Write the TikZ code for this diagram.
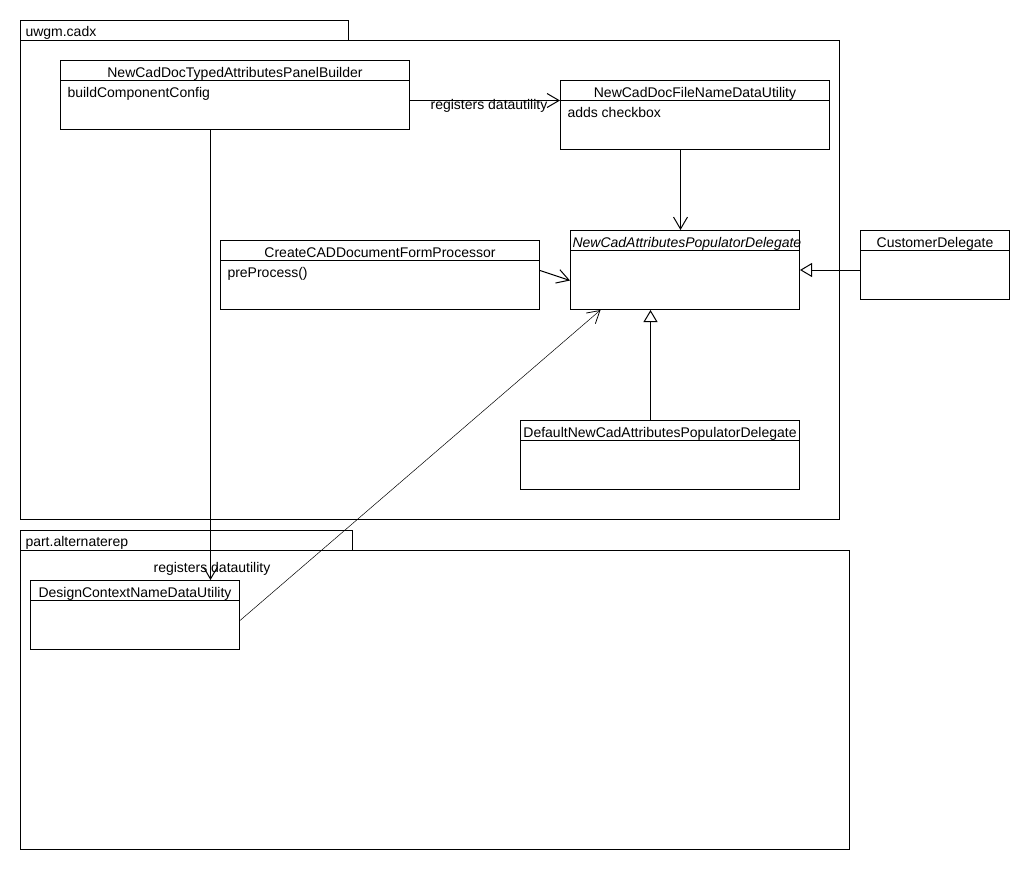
\documentclass[tikz,border=0pt]{standalone}
\usepackage{fontspec}
\setmainfont{Liberation Sans}
\usetikzlibrary{arrows.meta,positioning}

\begin{document}
\begin{tikzpicture}[
  x=1pt,y=-1pt,
  line width=1pt,
  font=\fontsize{14}{16}\selectfont,
  pkg/.style={draw,anchor=north west,inner sep=0pt},
  pkgname/.style={anchor=base west,inner sep=0pt},
  classbox/.style={draw,anchor=north west,inner sep=0pt},
  classname/.style={anchor=base,inner sep=0pt},
  classbody/.style={anchor=base west,inner sep=0pt},
  lbl/.style={inner sep=0pt},
  dep/.style={-{Straight Barb[length=12pt,width=14pt]}},
  thindep/.style={line width=0.5pt,-{Straight Barb[length=12pt,width=14pt,line width=0.8pt]}},
  gen/.style={-{Triangle[open,length=12pt,width=14pt]}}
]
\useasboundingbox (0,0) rectangle (1030,870);

% packages
\node[pkg,minimum width=328,minimum height=20] (cadxtab) at (20,20) {};
\node[pkg,minimum width=819,minimum height=479] (cadx) at (20,40) {};
\node[pkgname] (cadxname) at (25,36) {uwgm.cadx};
\node[pkg,minimum width=332,minimum height=20] (alttab) at (20,530) {};
\node[pkg,minimum width=829,minimum height=299] (alt) at (20,550) {};
\node[pkgname] (altname) at (25,546) {part.alternaterep};

% classes
\node[classbox,minimum width=349,minimum height=69] (builder) at (60,60) {};
\node[classname] (builder-t) at ([yshift=-17pt]builder.north) {NewCadDocTypedAttributesPanelBuilder};
\draw ([yshift=-20pt]builder.north west) -- ([yshift=-20pt]builder.north east);
\node[classbody] (builder-b) at ([shift={(7pt,-37pt)}]builder.north west) {buildComponentConfig};

\node[classbox,minimum width=269,minimum height=69] (filename) at (560,80) {};
\node[classname] (filename-t) at ([yshift=-17pt]filename.north) {NewCadDocFileNameDataUtility};
\draw ([yshift=-20pt]filename.north west) -- ([yshift=-20pt]filename.north east);
\node[classbody] (filename-b) at ([shift={(7pt,-37pt)}]filename.north west) {adds checkbox};

\node[classbox,minimum width=229,minimum height=79] (delegate) at (570,230) {};
\node[classname,anchor=base west] (delegate-t) at ([shift={(2pt,-17pt)}]delegate.north west) {\itshape NewCadAttributesPopulatorDelegate};
\draw ([yshift=-20pt]delegate.north west) -- ([yshift=-20pt]delegate.north east);

\node[classbox,minimum width=319,minimum height=69] (create) at (220,240) {};
\node[classname] (create-t) at ([yshift=-17pt]create.north) {CreateCADDocumentFormProcessor};
\draw ([yshift=-20pt]create.north west) -- ([yshift=-20pt]create.north east);
\node[classbody] (create-b) at ([shift={(7pt,-37pt)}]create.north west) {preProcess()};

\node[classbox,minimum width=149,minimum height=69] (customer) at (860,230) {};
\node[classname] (customer-t) at ([yshift=-17pt]customer.north) {CustomerDelegate};
\draw ([yshift=-20pt]customer.north west) -- ([yshift=-20pt]customer.north east);

\node[classbox,minimum width=279,minimum height=69] (default) at (520,420) {};
\node[classname] (default-t) at ([yshift=-17pt]default.north) {DefaultNewCadAttributesPopulatorDelegate};
\draw ([yshift=-20pt]default.north west) -- ([yshift=-20pt]default.north east);

\node[classbox,minimum width=209,minimum height=69] (design) at (30,580) {};
\node[classname] (design-t) at ([yshift=-17pt]design.north) {DesignContextNameDataUtility};
\draw ([yshift=-20pt]design.north west) -- ([yshift=-20pt]design.north east);

% connectors
\draw[dep] ([yshift=-5.5pt]builder.east) -- ([yshift=14.5pt]filename.west);
\node[lbl] (reg1) at (489,106) {registers datautility};
\draw[dep] ([xshift=-4.5pt]delegate.north |- filename.south) -- ([xshift=-4.5pt]delegate.north);
\draw[dep] ([yshift=4.5pt]create.east) -- ([yshift=-10.5pt]delegate.west);
\draw[gen] (customer.west |- delegate.east) -- (delegate.east);
\draw[gen] ([xshift=-9.5pt]default.north) -- ([xshift=-9.5pt]default.north |- delegate.south);
\draw[dep] ([xshift=-24.5pt]builder.south) -- ([xshift=-24.5pt]builder.south |- design.north);
\node[lbl] (reg2) at (212,569) {registers datautility};
\draw[thindep] ([yshift=-5.5pt]design.east) -- ([xshift=-84.5pt]delegate.south);
\end{tikzpicture}
\end{document}
